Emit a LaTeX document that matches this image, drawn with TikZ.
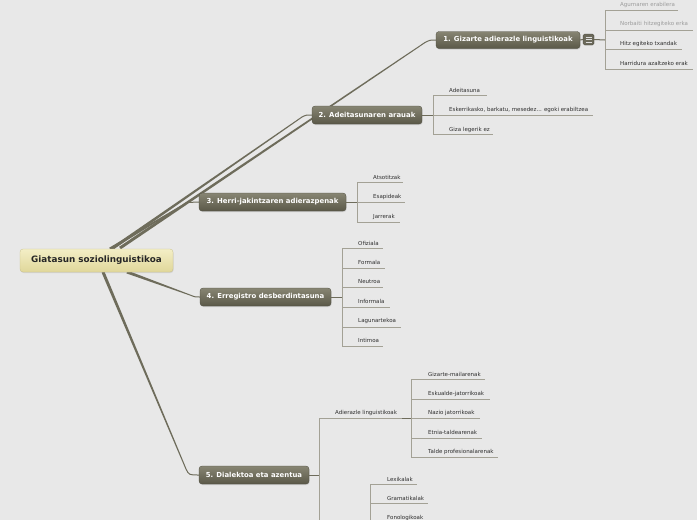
\documentclass[tikz,border=0pt]{standalone}
\usepackage{fontspec}
\setmainfont{DejaVu Sans}
\usetikzlibrary{calc,shadows}
\definecolor{bgc}{HTML}{E8E8E8}
\definecolor{brc}{HTML}{6E6C5B}
\definecolor{leafln}{HTML}{A3A195}
\definecolor{leaftx}{HTML}{2E2E2E}
\definecolor{fadetx}{HTML}{9C9C9C}
\definecolor{ntop}{HTML}{878573}
\definecolor{nbot}{HTML}{5A5848}
\definecolor{rtop}{HTML}{F3EEC6}
\definecolor{rbot}{HTML}{E0D79A}
\pgfdeclarelayer{back}
\pgfdeclarelayer{lines}
\pgfsetlayers{back,lines,main}
\newcommand\taperline[4]{\fill[brc] ($(#1)!#3!90:(#2)$) -- ($(#2)!#4!-90:(#1)$) -- ($(#2)!#4!90:(#1)$) -- ($(#1)!#3!-90:(#2)$) -- cycle;}
\tikzset{
  mainnode/.style={rounded corners=3pt, top color=ntop, bottom color=nbot, draw=nbot!85!black, line width=0.3pt,
    text=white, font=\fontsize{6.9}{8}\selectfont\bfseries, inner sep=0pt,
    drop shadow={shadow xshift=0.6pt, shadow yshift=-1pt, opacity=0.25}},
  rootnode/.style={rounded corners=3pt, top color=rtop, bottom color=rbot, draw=rbot!90!black, line width=0.3pt,
    text=black!85, font=\fontsize{8.8}{10}\selectfont\bfseries, inner sep=0pt,
    drop shadow={shadow xshift=0.6pt, shadow yshift=-1pt, opacity=0.2}},
  leaf/.style={anchor=west, inner sep=0pt, font=\fontsize{5.5}{6.5}\selectfont, text=leaftx},
  fade/.style={text=fadetx},
  leafline/.style={draw=leafln, line width=0.6pt},
  stemline/.style={draw=brc, line width=1pt},
  endcurve/.style={draw=brc, line width=1pt},
}
\begin{document}
\begin{tikzpicture}[x=1pt,y=-1pt]
\begin{pgfonlayer}{back}
\fill[bgc] (0,0) rectangle (697,520);
\end{pgfonlayer}
\useasboundingbox (0,0) rectangle (697,520);
\clip (0,0) rectangle (697,520);

% main nodes
\node[rootnode, minimum width=153pt, minimum height=23pt] (root) at (96.5,260.5) {Giatasun soziolinguistikoa};
\node[mainnode, minimum width=144pt, minimum height=17pt] (n1) at (508,40) {1. Gizarte adierazle linguistikoak};
\node[mainnode, minimum width=110pt, minimum height=18pt] (n2) at (367,115) {2. Adeitasunaren arauak};
\node[mainnode, minimum width=147pt, minimum height=18pt] (n3) at (272.5,202) {3. Herri-jakintzaren adierazpenak};
\node[mainnode, minimum width=131pt, minimum height=18pt] (n4) at (265.5,297) {4. Erregistro desberdintasuna};
\node[mainnode, minimum width=110pt, minimum height=18pt] (n5) at (254,475) {5. Dialektoa eta azentua};

% collapse icon
\node[rounded corners=1.5pt, fill=nbot!90, draw=nbot!70!black, line width=0.3pt, minimum width=11pt, minimum height=11pt, inner sep=0pt] (ic) at (588.5,39.5) {};
\foreach \dy in {-2.5,0,2.5}
  \draw[white!75!gray, line width=0.6pt] ($(ic.center)+(-3,\dy)$) -- ++(6,0);

% branches from root
\begin{pgfonlayer}{lines}
\coordinate (s1) at (120,248); \coordinate (p1) at (425,42.5);
\coordinate (s2) at (113,248); \coordinate (p2) at (302,117);
\coordinate (s3) at (110,249); \coordinate (p3) at (187,202.5);
\coordinate (s4) at (127,272); \coordinate (p4) at (190,295);
\coordinate (s5) at (103,272); \coordinate (p5) at (186,469);
\taperline{s1}{p1}{1.5pt}{0.5pt}
\taperline{s2}{p2}{1.5pt}{0.5pt}
\taperline{s3}{p3}{1.5pt}{0.5pt}
\taperline{s4}{p4}{1.5pt}{0.5pt}
\taperline{s5}{p5}{1.5pt}{0.5pt}
\draw[endcurve] (p1) .. controls (430,40) .. (n1.west);
\draw[endcurve] (p2) .. controls (306,115) .. (n2.west);
\draw[endcurve] (p3) .. controls (192,202) .. (n3.west);
\draw[endcurve] (p4) .. controls (195,297) .. (n4.west);
\draw[endcurve] (p5) .. controls (189,475) .. (n5.west);
\end{pgfonlayer}

% ---- node 1 children
\coordinate (b1) at (605,40);
\draw[stemline] (n1.east) -- (ic.west);
\draw[stemline] (ic.east) -- (b1);
\draw[leafline] (605,10.7) -- (605,69);
\node[leaf, fade] (l11) at (620,5) {Agumaren erabilera};
\draw[leafline] (605,10.7) -- (678,10.7);
\node[leaf, fade] (l12) at (620,24) {Norbaiti hitzegiteko erka};
\draw[leafline] (605,30) -- (693,30);
\node[leaf] (l13) at (620,43.5) {Hitz egiteko txandak};
\draw[leafline] (605,49) -- (682,49);
\node[leaf] (l14) at (620,63) {Harridura azaltzeko erak};
\draw[leafline] (605,69) -- (693,69);

% ---- node 2 children
\coordinate (b2) at (433,115);
\draw[leafline] (433,95) -- (433,134);
\node[leaf] (l21) at (449,90) {Adeitasuna};
\draw[leafline] (433,95) -- (487,95);
\node[leaf] (l22) at (449,109.5) {Eskerrikasko, barkatu, mesedez... egoki erabiltzea};
\draw[leafline] (433,115) -- (593,115);
\node[leaf] (l23) at (449,129.5) {Giza legerik ez};
\draw[leafline] (433,134) -- (493,134);
\draw[stemline] (n2.east) -- (b2);

% ---- node 3 children
\coordinate (b3) at (357,202);
\draw[leafline] (357,182) -- (357,222);
\node[leaf] (l31) at (373,177) {Atsotitzak};
\draw[leafline] (357,182) -- (403,182);
\node[leaf] (l32) at (373,196.5) {Esapideak};
\draw[leafline] (357,202) -- (405,202);
\node[leaf] (l33) at (373,216.5) {Jarrerak};
\draw[leafline] (357,222) -- (400,222);
\draw[stemline] (n3.east) -- (b3);

% ---- node 4 children
\coordinate (b4) at (342,297);
\draw[leafline] (342,248) -- (342,346);
\node[leaf] (l41) at (358,243) {Ofiziala};
\draw[leafline] (342,248) -- (383,248);
\node[leaf] (l42) at (358,262.5) {Formala};
\draw[leafline] (342,268) -- (385,268);
\node[leaf] (l43) at (358,282) {Neutroa};
\draw[leafline] (342,287) -- (383,287);
\node[leaf] (l44) at (358,301.5) {Informala};
\draw[leafline] (342,307) -- (390,307);
\node[leaf] (l45) at (358,321) {Lagunartekoa};
\draw[leafline] (342,327) -- (401,327);
\node[leaf] (l46) at (358,340.5) {Intimoa};
\draw[leafline] (342,346) -- (383,346);
\draw[stemline] (n4.east) -- (b4);

% ---- node 5 children
\coordinate (b5) at (319,475);
\draw[leafline] (319,418) -- (319,530);
\draw[stemline] (n5.east) -- (b5);
\node[leaf] (l51) at (335,413) {Adierazle linguistikoak};
\draw[leafline] (319,418) -- (411,418);
\coordinate (b51) at (411,418);
\draw[stemline] (402,418) -- (b51);
\draw[leafline] (411,379) -- (411,457);
\node[leaf] (l511) at (428,374) {Gizarte-mailarenak};
\draw[leafline] (411,379) -- (485,379);
\node[leaf] (l512) at (428,393.5) {Eskualde-jatorrikoak};
\draw[leafline] (411,399) -- (490,399);
\node[leaf] (l513) at (428,413) {Nazio jatorrikoak};
\draw[leafline] (411,418) -- (480,418);
\node[leaf] (l514) at (428,432.5) {Etnia-taldearenak};
\draw[leafline] (411,438) -- (482,438);
\node[leaf] (l515) at (428,452) {Talde profesionalarenak};
\draw[leafline] (411,457) -- (498,457);

% second sub-branch (continues below)
\draw[leafline] (370,484) -- (370,530);
\node[leaf] (l521) at (387,479) {Lexikalak};
\draw[leafline] (370,484) -- (417,484);
\node[leaf] (l522) at (387,498) {Gramatikalak};
\draw[leafline] (370,503) -- (428,503);
\node[leaf] (l523) at (387,517.5) {Fonologikoak};
\draw[leafline] (370,523) -- (425,523);
\end{tikzpicture}
\end{document}
